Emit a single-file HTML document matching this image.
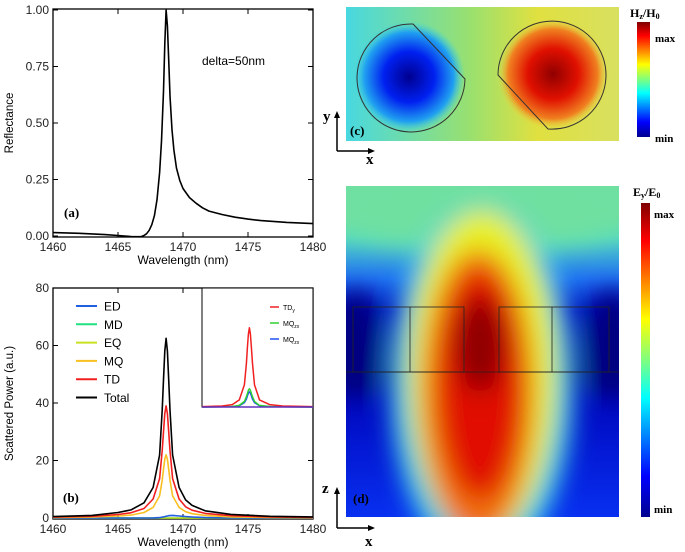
<!DOCTYPE html>
<html><head><meta charset="utf-8">
<style>
html,body{margin:0;padding:0;background:#fff;}
svg{display:block;font-family:"Liberation Sans",sans-serif;}
.tk{font-size:12px;fill:#222;}
.serif{font-family:"Liberation Serif",serif;font-weight:bold;}
</style></head>
<body>
<svg id="fig" width="685" height="552" viewBox="0 0 685 552">
<defs>
  <linearGradient id="jet" x1="0" y1="0" x2="0" y2="1">
    <stop offset="0" stop-color="#800000"/><stop offset="0.12" stop-color="#ff0000"/>
    <stop offset="0.37" stop-color="#ffff00"/><stop offset="0.5" stop-color="#7fff7f"/>
    <stop offset="0.62" stop-color="#00ffff"/><stop offset="0.87" stop-color="#0000ff"/>
    <stop offset="1" stop-color="#00008f"/>
  </linearGradient>
  <linearGradient id="cbg" x1="0" y1="0" x2="1" y2="0">
    <stop offset="0" stop-color="#48d8e0"/><stop offset="0.45" stop-color="#98e070"/>
    <stop offset="0.7" stop-color="#e0e040"/><stop offset="1" stop-color="#d8e060"/>
  </linearGradient>
  <radialGradient id="blueblob"><stop offset="0" stop-color="#000090"/><stop offset="0.45" stop-color="#0020f0"/><stop offset="0.8" stop-color="#20a0f0"/><stop offset="1" stop-color="#40d8e0" stop-opacity="0"/></radialGradient>
  <radialGradient id="redblob"><stop offset="0" stop-color="#900000"/><stop offset="0.45" stop-color="#e01000"/><stop offset="0.8" stop-color="#f08020"/><stop offset="1" stop-color="#e8e040" stop-opacity="0"/></radialGradient>
  <linearGradient id="dbg" x1="0" y1="0" x2="0" y2="1">
    <stop offset="0" stop-color="#70e0a0"/><stop offset="0.15" stop-color="#50d8c8"/>
    <stop offset="0.28" stop-color="#2070f0"/><stop offset="0.38" stop-color="#0008c0"/>
    <stop offset="0.55" stop-color="#000890"/><stop offset="0.65" stop-color="#0008c0"/>
    <stop offset="1" stop-color="#0830f0"/>
  </linearGradient>
  <filter id="blur12" x="-50%" y="-50%" width="200%" height="200%"><feGaussianBlur stdDeviation="12"/></filter>
  <clipPath id="clipD"><rect x="346" y="186" width="273" height="331"/></clipPath>
  <clipPath id="clipA"><rect x="53" y="9" width="260" height="228"/></clipPath>
  <clipPath id="clipB"><rect x="53" y="288" width="260" height="231"/></clipPath>
</defs>

<g id="panelA"></g>
<g id="panelB"></g>

<!-- Panel (c) -->
<g>
  <rect x="346" y="7" width="273" height="134" fill="url(#cbg)"/>
  <circle cx="409" cy="77" r="56" fill="url(#blueblob)"/>
  <circle cx="553" cy="74" r="56" fill="url(#redblob)"/>
  <path d="M413,24 L465,79 A54,54 0 1 1 413,24 Z" fill="none" stroke="#333" stroke-width="1"/>
  <path d="M498,75 L548,129 A54,54 0 1 0 498,75 Z" fill="none" stroke="#333" stroke-width="1"/>
  <text x="350" y="135" class="serif" font-size="13">(c)</text>
  <rect x="637" y="22" width="13" height="115" fill="url(#jet)"/>
  <text x="630" y="17" class="serif" font-size="12">H<tspan font-size="8" dy="2">z</tspan><tspan dy="-2">/H</tspan><tspan font-size="8" dy="2">0</tspan></text>
  <text x="655" y="42" class="serif" font-size="11">max</text>
  <text x="655" y="142" class="serif" font-size="11">min</text>
  <g>
    <line x1="337" y1="151" x2="337" y2="116" stroke="#000" stroke-width="1.5"/>
    <polygon points="337,111 334,118 340,118" fill="#000"/>
    <line x1="337" y1="151" x2="370" y2="151" stroke="#000" stroke-width="1.5"/>
    <polygon points="375,151 368,148 368,154" fill="#000"/>
    <text x="323" y="121" class="serif" font-size="15">y</text>
    <text x="366" y="164" class="serif" font-size="15">x</text>
  </g>
</g>

<!-- Panel (d) -->
<g>
  <g clip-path="url(#clipD)">
    <rect x="346" y="186" width="273" height="331" fill="url(#dbg)"/>
    <g filter="url(#blur12)">
      <ellipse cx="482" cy="210" rx="170" ry="40" fill="#70e0a0"/>
      <ellipse cx="482" cy="385" rx="92" ry="180" fill="#30d0e8"/>
      <ellipse cx="482" cy="375" rx="74" ry="165" fill="#e8f020"/>
      <ellipse cx="478" cy="395" rx="56" ry="145" fill="#f07010"/>
      <ellipse cx="480" cy="385" rx="42" ry="115" fill="#e01000"/>
      <ellipse cx="480" cy="345" rx="25" ry="48" fill="#900000"/>
      <ellipse cx="355" cy="345" rx="25" ry="55" fill="#000080"/>
      <ellipse cx="612" cy="345" rx="25" ry="55" fill="#000080"/>
    </g>
  </g>
  <g fill="none" stroke="#222" stroke-width="0.8">
    <rect x="353" y="307" width="111" height="65"/>
    <rect x="499" y="307" width="110" height="65"/>
    <line x1="410" y1="307" x2="410" y2="372"/>
    <line x1="552" y1="307" x2="552" y2="372"/>
    <line x1="346" y1="372" x2="619" y2="372"/>
  </g>
  <text x="353" y="503" class="serif" font-size="13">(d)</text>
  <rect x="641" y="203" width="9" height="314" fill="url(#jet)"/>
  <text x="633" y="196" class="serif" font-size="12">E<tspan font-size="8" dy="2">y</tspan><tspan dy="-2">/E</tspan><tspan font-size="8" dy="2">0</tspan></text>
  <text x="654" y="218" class="serif" font-size="11">max</text>
  <text x="654" y="513" class="serif" font-size="11">min</text>
  <g>
    <line x1="337" y1="528" x2="337" y2="492" stroke="#000" stroke-width="1.5"/>
    <polygon points="337,487 334,494 340,494" fill="#000"/>
    <line x1="337" y1="528" x2="370" y2="528" stroke="#000" stroke-width="1.5"/>
    <polygon points="375,528 368,525 368,531" fill="#000"/>
    <text x="322" y="493" class="serif" font-size="15">z</text>
    <text x="365" y="546" class="serif" font-size="15">x</text>
  </g>
</g>
</svg>

<script>
// ---- Panel (a) data ----
const wlA = [1460,1462,1464,1465,1466,1466.5,1466.8,1467,1467.2,1467.4,1467.6,1467.8,1468,1468.2,1468.35,1468.5,1468.6,1468.7,1468.8,1468.9,1469,1469.15,1469.3,1469.5,1469.75,1470,1470.5,1471,1471.5,1472,1473,1474,1475,1476,1478,1480];
const reflA = [0.015,0.012,0.006,0.002,-0.002,-0.003,-0.002,0.002,0.01,0.025,0.05,0.09,0.16,0.28,0.42,0.64,0.85,1.0,0.93,0.78,0.62,0.47,0.38,0.30,0.245,0.21,0.17,0.145,0.125,0.11,0.095,0.083,0.075,0.068,0.06,0.055];
const xTicks = [1460,1465,1470,1475,1480];
const yTicksA = [0,0.25,0.5,0.75,1.0];
const yTickLabelsA = ["0.00","0.25","0.50","0.75","1.00"];

// ---- Panel (b) data ----
const wlB = [1460,1463,1465,1466,1467,1467.7,1468.2,1468.4,1468.5,1468.6,1468.7,1468.8,1468.9,1469,1469.2,1469.7,1470.2,1470.7,1471.7,1473.7,1476.7,1480];
const totalB = [0.5,0.9,1.9,2.8,5.3,10.6,21.9,37.5,48.1,58.1,62.5,58.1,48.1,37.5,21.9,10.6,6.3,4.4,2.5,1.25,0.6,0.4];
const tdB = [0.3,0.6,1.2,1.8,3.3,6.6,13.7,23.4,30,36.3,39,36.3,30,23.4,13.7,6.6,3.9,2.7,1.6,0.8,0.4,0.2];
const mqB = [0.2,0.3,0.7,1.0,1.9,3.7,7.7,13.2,16.9,20.5,22,20.5,16.9,13.2,7.7,3.7,2.2,1.5,0.9,0.4,0.2,0.1];
const edB = [0,0,0,0,0,0.05,0.15,0.3,0.4,0.5,0.6,0.7,0.8,0.85,0.9,0.7,0.5,0.35,0.15,0.05,0,0];
const mdB = [0,0,0,0,0,0,0,0,0,0,0,0,0,0,0,0,0,0,0,0,0,0];
const eqB = [0,0,0,0,0,0,0,0,0,0,0,0,0,0,0,0,0,0,0,0,0,0];
const yTicksB = [0,20,40,60,80];
const legendNames = ["ED","MD","EQ","MQ","TD","Total"];
const legendColors = ["#1f5fe0","#20e080","#c8e020","#f8c020","#f02020","#000000"];

// ---- Inset data ----
const wlIn = [1464,1466,1467,1467.7,1468.2,1468.4,1468.5,1468.6,1468.7,1468.8,1468.9,1469,1469.2,1469.7,1470.7,1472,1475];
const tdyIn = [0.005,0.012,0.03,0.09,0.28,0.55,0.75,0.92,1,0.92,0.75,0.55,0.28,0.09,0.03,0.012,0.005];
const mqzxIn = [0,0.003,0.006,0.02,0.07,0.13,0.17,0.21,0.23,0.21,0.17,0.13,0.07,0.02,0.006,0.003,0];
const mqzx2In = [0,0.002,0.005,0.016,0.055,0.1,0.14,0.175,0.19,0.175,0.14,0.1,0.055,0.016,0.005,0.002,0];
const insetNames = ["TD","MQ","MQ"];
const insetSubs = ["y","zx","zx"];
const insetColors = ["#f02020","#30d030","#2050f0"];

const NS = "http://www.w3.org/2000/svg";
function mk(tag, attrs, parent){const e=document.createElementNS(NS,tag);for(const k in attrs)e.setAttribute(k,attrs[k]);parent.appendChild(e);return e;}
function lin(d0,d1,r0,r1){return v=>r0+(v-d0)*(r1-r0)/(d1-d0);}

function axesBox(g, x0,x1,y0,y1, xs, ys, yT, yL, ylab){
  const frame = mk('rect',{x:x0,y:y0,width:x1-x0,height:y1-y0,fill:'none',stroke:'#000','stroke-width':1.3},g);
  
  
  xTicks.forEach(t=>{
    const X=xs(t);
    mk('line',{x1:X,y1:y1,x2:X,y2:y1-5,stroke:'#000'},g);
    mk('line',{x1:X,y1:y0,x2:X,y2:y0+5,stroke:'#000'},g);
    const tx=mk('text',{x:X,y:y1+14,'text-anchor':'middle',class:'tk'},g);
    tx.textContent=t;
    
    
  });
  yT.forEach((t,i)=>{
    const Y=ys(t);
    mk('line',{x1:x0,y1:Y,x2:x0+5,y2:Y,stroke:'#000'},g);
    mk('line',{x1:x1,y1:Y,x2:x1-5,y2:Y,stroke:'#000'},g);
    const tx=mk('text',{x:x0-4,y:Y+4,'text-anchor':'end',class:'tk'},g);
    tx.textContent=yL[i];
    
    
  });
  const xl=mk('text',{x:(x0+x1)/2,y:y1+27,'text-anchor':'middle','font-size':12},g);
  xl.textContent='Wavelength (nm)';
  
  
  const yl=mk('text',{x:0,y:0,'text-anchor':'middle','font-size':11.5,transform:`translate(13,${(y0+y1)/2}) rotate(-90)`},g);
  yl.textContent=ylab;
  
  
}
function line(g, xs, ys, X, Y, color, w, name, clip){
  const d=X.map((x,i)=>(i?'L':'M')+xs(x).toFixed(1)+','+ys(Y[i]).toFixed(1)).join('');
  const p=mk('path',{d:d,fill:'none',stroke:color,'stroke-width':w,'stroke-linejoin':'round'},g);
  if(clip) p.setAttribute('clip-path',clip);
  
  
}

(function(){
  const g=document.getElementById('panelA');
  const xs=lin(1460,1480,53,313), ys=lin(0,1,236,10);
  axesBox(g,53,313,9,237,xs,ys,yTicksA,yTickLabelsA,'Reflectance');
  line(g,xs,ys,wlA,reflA,'#000',1.6,'reflectance-curve','url(#clipA)');
  const t=mk('text',{x:202,y:65,'font-size':12},g); t.textContent='delta=50nm';
   
  const l=mk('text',{x:64,y:217,class:'serif','font-size':13},g); l.textContent='(a)';
   
})();

(function(){
  const g=document.getElementById('panelB');
  const xs=lin(1460,1480,53,313), ys=lin(0,80,518,288);
  axesBox(g,53,313,288,519,xs,ys,yTicksB,yTicksB.map(String),'Scattered Power (a.u.)');
  const series=[edB,mdB,eqB,mqB,tdB,totalB];
  [1,2,0,3,4,5].forEach(i=>line(g,xs,ys,wlB,series[i],legendColors[i],1.6,'series-'+legendNames[i].toLowerCase(),'url(#clipB)'));
  legendNames.forEach((n,i)=>{
    const y=306+i*18.3;
    const ln=mk('line',{x1:76,y1:y,x2:97,y2:y,stroke:legendColors[i],'stroke-width':2},g);
     
    const t=mk('text',{x:104,y:y+4.5,'font-size':12},g); t.textContent=n;
     
  });
  const l=mk('text',{x:63,y:502,class:'serif','font-size':13},g); l.textContent='(b)';
   
  const ig=mk('g',{},g);
   
  const ib=mk('rect',{x:202,y:288,width:111,height:119,fill:'#fff',stroke:'#000','stroke-width':1},ig);
   
  const ixs=lin(1464,1475,202,313), iys=lin(0,1.5,407,288);
  [mqzx2In,mqzxIn,tdyIn].forEach((s,k)=>{const i=2-k;line(ig,ixs,iys,wlIn,s,insetColors[i],1.5,'inset-series-'+i);});
  mk('line',{x1:202,y1:407,x2:313,y2:407,stroke:'#6030c0','stroke-width':1.5},ig);
  insetNames.forEach((n,i)=>{
    const y=307+i*16;
    mk('line',{x1:270,y1:y,x2:279,y2:y,stroke:insetColors[i],'stroke-width':1.5},ig);
    const t=mk('text',{x:283,y:y+3,'font-size':7},ig);
    t.innerHTML=n+'<tspan font-size="5" dy="2">'+insetSubs[i]+'</tspan>';
     
  });
})();
</script>
</body></html>
